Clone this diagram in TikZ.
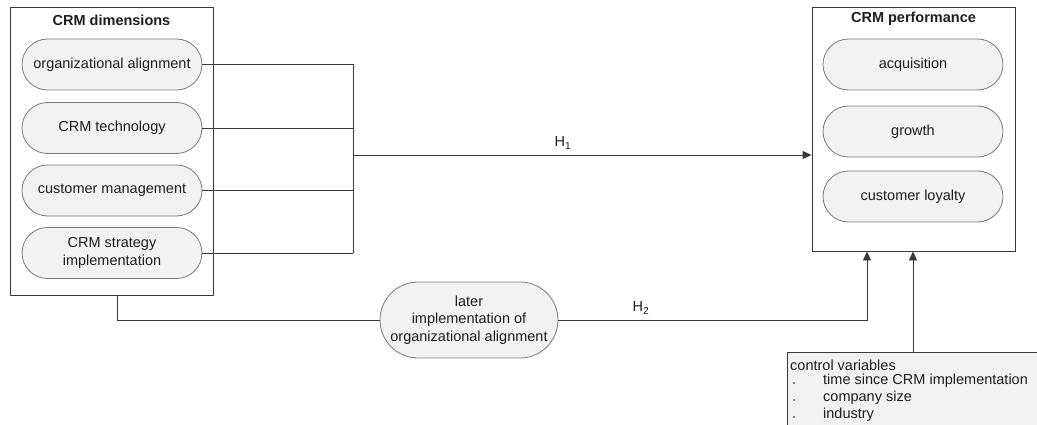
\documentclass[tikz,border=0pt]{standalone}
\usepackage{fontspec}
\setmainfont{Liberation Sans}
\usetikzlibrary{shapes.misc,arrows.meta}
\definecolor{pillfill}{HTML}{F2F2F2}
\definecolor{pillline}{HTML}{7A7A7A}
\definecolor{boxline}{HTML}{3A3A3A}
\definecolor{ink}{HTML}{1E1E1E}
\begin{document}
\begin{tikzpicture}[x=1pt,y=-1pt,
  font=\fontsize{14.5}{18}\selectfont, text=ink,
  pill/.style={rounded rectangle, draw=pillline, fill=pillfill, line width=0.8pt,
    minimum width=180pt, minimum height=51pt, inner sep=0pt, align=center},
  group/.style={rectangle, draw=boxline, line width=0.9pt, inner sep=0pt},
  title/.style={font=\fontsize{14.5}{18}\selectfont\bfseries},
  conn/.style={draw=boxline, line width=0.9pt},
  tip/.style={-{Triangle[length=9pt,width=8pt]}}]
\useasboundingbox (0,0) rectangle (1037,425);
\clip (0,0) rectangle (1037,425);

% grouping boxes
\node[group, minimum width=203pt, minimum height=288pt] (dims) at (111.5,151) {};
\node[title] (dimsT) at (111.5,20) {CRM dimensions};
\node[group, minimum width=203pt, minimum height=244pt] (perf) at (913.5,129) {};
\node[title] (perfT) at (913.5,19) {CRM performance};

% CRM dimensions
\node[pill] (oa) at (112,64.5) {organizational alignment};
\node[pill] (tech) at (112,128) {CRM technology};
\node[pill] (cm) at (112,190.5) {customer management};
\node[pill] (si) at (112,253) {CRM strategy\\implementation};

% CRM performance
\node[pill] (acq) at (913,64.5) {acquisition};
\node[pill] (gro) at (913,131.5) {growth};
\node[pill] (loy) at (913,196.5) {customer loyalty};

% mediator
\node[pill, minimum width=178pt, minimum height=76pt,
  font=\fontsize{14.5}{17.5}\selectfont] (later) at (469,320)
  {later\\implementation of\\organizational alignment};

% control variables
\node[rectangle, draw=boxline, fill=pillfill, line width=0.9pt, anchor=north west,
  minimum width=260pt, minimum height=90pt] (ctrl) at (787,352) {};
\node[anchor=west, inner sep=0pt] (cvT) at (790,365) {control variables};
\foreach \y/\t/\n in {381/time since CRM implementation/c1, 398/company size/c2, 415/industry/c3}{
  \node[anchor=west, inner sep=0pt] (\n) at (823,\y) {\t};
  \fill[ink] (794,\y+2) circle (0.9pt);
}

% junction points
\coordinate (jb) at (353,253);
\coordinate (j) at (353,155);
\coordinate (h2x) at (117,320);
\coordinate (a1) at (867,251);
\coordinate (a2) at (913,251);

% H1
\draw[conn] (oa.east) -| (jb);
\draw[conn] (tech.east) -- (tech.east -| jb);
\draw[conn] (cm.east) -- (cm.east -| jb);
\draw[conn] (si.east) -- (jb);
\draw[conn, tip] (j) -- (perf.west |- j);
\node (H1) at (563,143) {H\textsubscript{1}};

% H2
\draw[conn] (dims.south -| h2x) |- (later.west);
\draw[conn, tip] (later.east) -| (perf.south -| a1);
\node (H2) at (641,308) {H\textsubscript{2}};

% controls
\draw[conn, tip] (ctrl.north -| a2) -- (perf.south -| a2);
\end{tikzpicture}
\end{document}
